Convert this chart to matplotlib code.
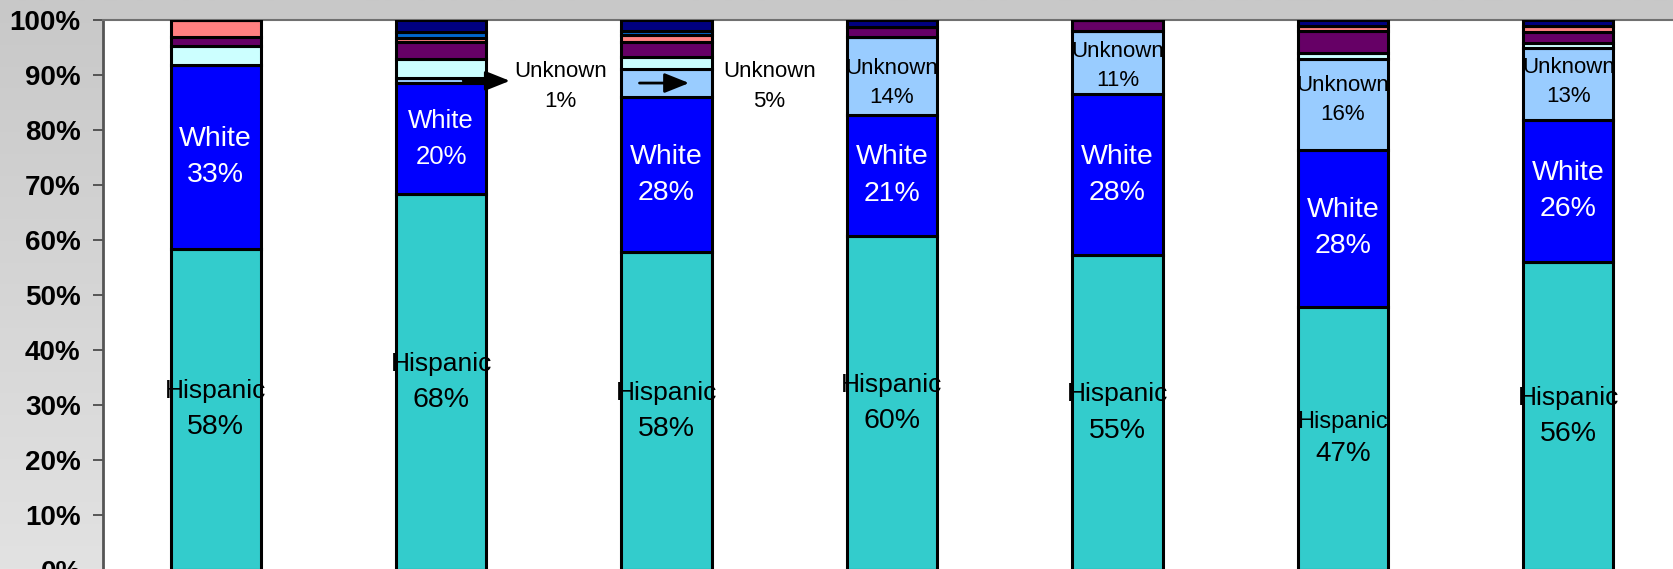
import numpy as np
import matplotlib.pyplot as plt

plt.rcParams['font.family'] = ['Liberation Sans', 'DejaVu Sans']

# stacked shares (percent), bottom to top
hispanic = [58.3, 68.2, 57.7, 60.7, 57.1, 47.8, 55.9]
white = [33.4, 20.2, 28.2, 21.9, 29.3, 28.5, 25.9]
unknown = [0.0, 0.9, 5.1, 14.3, 11.5, 16.6, 13.1]
light_cyan = [3.4, 3.6, 2.1, 0.0, 0.0, 1.0, 0.8]
purple = [1.8, 3.1, 2.9, 1.8, 2.1, 4.0, 2.1]
salmon = [3.1, 0.6, 1.2, 0.0, 0.0, 0.9, 1.1]
mid_blue = [0.0, 1.2, 0.8, 0.0, 0.0, 0.0, 0.0]
navy = [0.0, 2.2, 2.0, 1.3, 0.0, 1.2, 1.1]

hispanic_labels = ["58%", "68%", "58%", "60%", "55%", "47%", "56%"]
white_labels = ["33%", "20%", "28%", "21%", "28%", "28%", "26%"]
unknown_labels = ["", "1%", "5%", "14%", "11%", "16%", "13%"]

yticks = [0, 10, 20, 30, 40, 50, 60, 70, 80, 90, 100]
ytick_labels = [f"{v}%" for v in yticks]

series = [
    (hispanic, '#33CCCC'),
    (white, '#0000FF'),
    (unknown, '#99CCFF'),
    (light_cyan, '#CCFFFF'),
    (purple, '#660066'),
    (salmon, '#FF8080'),
    (mid_blue, '#0066CC'),
    (navy, '#000080'),
]

fig = plt.figure(figsize=(16.74, 5.69), dpi=100)

# grey gradient background
bg = fig.add_axes([0, 0, 1, 1])
grad = np.linspace(200, 226, 256).reshape(-1, 1) / 255.0
bg.imshow(np.dstack([grad, grad, grad]), aspect='auto', extent=[0, 1, 0, 1])
bg.set_axis_off()

ax = fig.add_axes([0.0615, -0.001, 0.9427, 0.9667])
ax.set_facecolor('white')

x = np.arange(len(hispanic))
bottom = np.zeros(len(x))
for vals, col in series:
    vals = np.array(vals)
    ax.bar(x, vals, width=0.4, bottom=bottom, color=col,
           edgecolor='black', linewidth=2.2, zorder=3)
    bottom = bottom + vals

ax.set_xlim(-0.5, 6.5)
ax.set_ylim(0, 100)
ax.set_xticks([])
ax.set_yticks(yticks)
ax.set_yticklabels(ytick_labels, fontsize=20, fontweight='bold')
ax.tick_params(axis='y', direction='out', length=7, width=1.2,
               color='#404040', pad=9)

for s in ['right', 'bottom']:
    ax.spines[s].set_visible(False)
ax.spines['left'].set_color('#555555')
ax.spines['left'].set_linewidth(2)
ax.spines['top'].set_color('#707070')
ax.spines['top'].set_linewidth(1.5)


def seg_label(xi, yc, name, pct, name_size, pct_size, gap, color='black'):
    ax.annotate(name, (xi, yc), xytext=(0, gap), textcoords='offset points',
                ha='center', va='center', fontsize=name_size, color=color,
                zorder=5)
    ax.annotate(pct, (xi, yc), xytext=(0, -gap), textcoords='offset points',
                ha='center', va='center', fontsize=pct_size, color=color,
                zorder=5)


hisp_name_size = [19, 19, 19, 19, 19, 17, 19]
white_size = [20.5, 18.5, 20.5, 20.5, 20.5, 20.5, 20.5]
unknown_shift = [0, 0, 0, -1.3, -0.6, 0.8, 0.3]

for i in range(len(x)):
    h = hispanic[i]
    w = white[i]
    u = unknown[i]
    seg_label(x[i], h / 2, "Hispanic", hispanic_labels[i],
              hisp_name_size[i], 20.5 if i != 5 else 20,
              13 if i != 5 else 11.5)
    seg_label(x[i], h + w / 2, "White", white_labels[i],
              white_size[i], white_size[i], 13, color='white')
    if i >= 3:
        seg_label(x[i], h + w + u / 2 + unknown_shift[i], "Unknown",
                  unknown_labels[i], 16, 16, 10.5)

# small unknown segments labelled outside with arrows
for xi, tail, tip, lab in [(1, 1.098, 1.305, 1.528), (2, 1.88, 2.10, 2.457)]:
    yc = hispanic[xi] + white[xi] + unknown[xi] / 2
    ax.annotate('', xy=(tip, yc), xytext=(tail, yc),
                arrowprops=dict(arrowstyle='-|>,head_length=0.75,head_width=0.3',
                                color='black', lw=2, mutation_scale=20,
                                shrinkA=0, shrinkB=0),
                zorder=6)
    seg_label(lab, 87.8, "Unknown", unknown_labels[xi], 16, 16, 11)

fig.savefig('out.png', dpi=100)
